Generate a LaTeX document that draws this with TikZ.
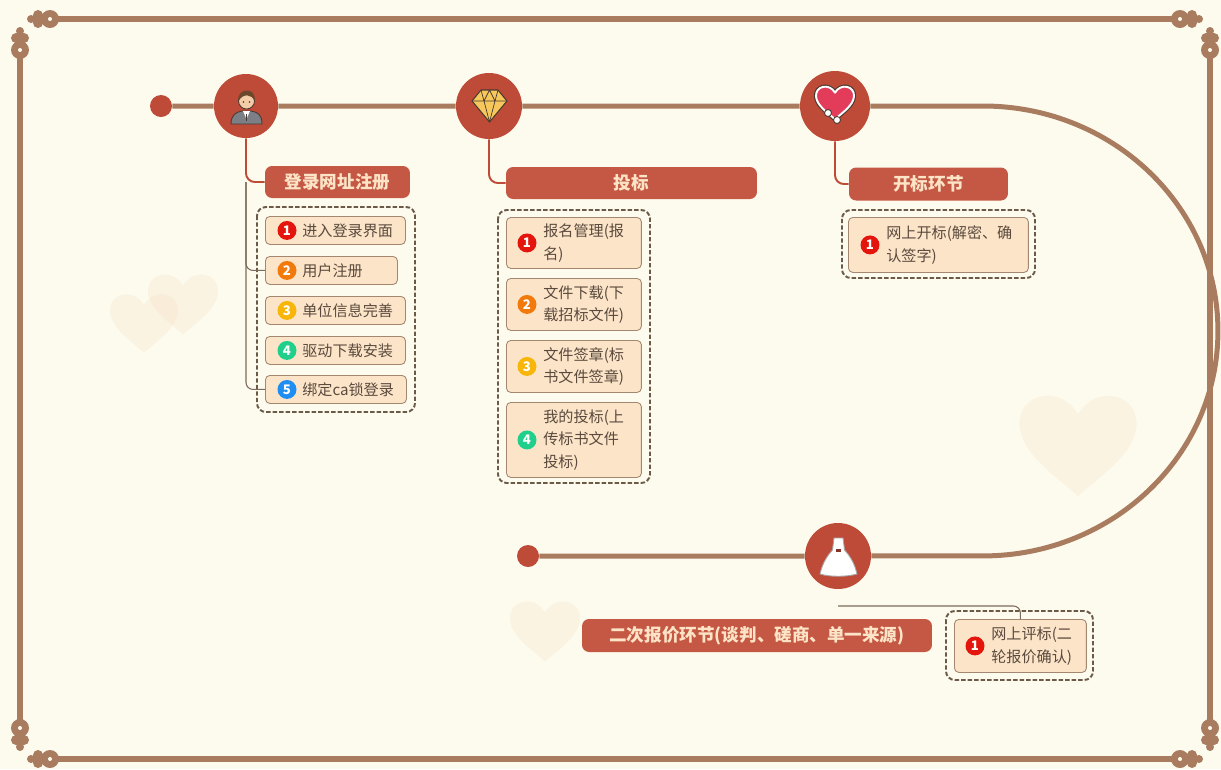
\documentclass[tikz,border=0pt]{standalone}
\usepackage{fontspec}
\setmainfont{Noto Sans CJK SC}
\usetikzlibrary{calc}
\definecolor{paper}{HTML}{FDFBEE}
\definecolor{ropebrown}{HTML}{A97C5F}
\definecolor{hubred}{HTML}{BE4B38}
\definecolor{headred}{HTML}{C55845}
\definecolor{headink}{HTML}{FDE4C6}
\definecolor{leaffill}{HTML}{FCE4C9}
\definecolor{leafline}{HTML}{A38771}
\definecolor{leafink}{HTML}{5A4A3D}
\definecolor{grpline}{HTML}{6C5A49}
\definecolor{twigline}{HTML}{7D6B5C}
\definecolor{heartfill}{HTML}{F7DEC3}
\definecolor{bdgred}{HTML}{E3150D}
\definecolor{bdgorange}{HTML}{F27A0C}
\definecolor{bdgyellow}{HTML}{F8B60A}
\definecolor{bdggreen}{HTML}{1FCF8A}
\definecolor{bdgblue}{HTML}{1E8EF2}
\definecolor{iconline}{HTML}{4A3A30}
\definecolor{suitgray}{HTML}{7C7F86}
\definecolor{skin}{HTML}{F4CDA8}
\definecolor{hairbrown}{HTML}{6B472B}
\definecolor{gemgold}{HTML}{F6C85C}
\definecolor{heartred}{HTML}{E23C5A}

\begin{document}
\begin{tikzpicture}[x=0.02cm, y=-0.02cm, line join=round,
    trunk/.style={draw=ropebrown, line width=0.1cm},
    frame/.style={draw=ropebrown, line width=0.12cm},
    hub/.style={circle, fill=hubred, inner sep=0pt, minimum size=#1*0.02cm},
    spoke/.style={draw=hubred, line width=1.1pt, rounded corners=5pt},
    twig/.style={draw=twigline, line width=0.6pt, rounded corners=4pt},
    head/.style={fill=headred, rounded corners=4pt, inner sep=0pt, text=headink,
                 font=\bfseries\fontsize{10}{12}\selectfont},
    grp/.style={draw=grpline, line width=1.1pt, dash pattern=on 2.5pt off 1.2pt, rounded corners=5pt},
    leaf/.style={draw=leafline, fill=leaffill, line width=0.5pt, rounded corners=2.5pt,
                 anchor=north west, inner sep=0pt},
    leaftext/.style={anchor=west, align=left, inner sep=0pt, text=leafink,
                     font=\fontsize{8.6}{12.8}\selectfont},
    badge/.style={circle, fill=#1, inner sep=0pt, minimum size=0.38cm, text=white,
                  font=\bfseries\fontsize{7.5}{8}\selectfont},
    ghost/.style={fill=heartfill, fill opacity=0.27}]

  % paper
  \fill[paper] (0,0) rectangle (1221,769);
  \useasboundingbox (0,0) rectangle (1221,769);

  % faint hearts in the back
  \foreach \hx/\hy/\hs in {144/320/0.68, 183/301/0.70, 1078/440/1.17, 545/628/0.70}
    \fill[ghost, shift={(\hx,\hy)}, scale=\hs] (0,-22) .. controls (-15,-48) and (-52,-40) .. (-50,-12)
      .. controls (-48,12) and (-20,30) .. (0,48) .. controls (20,30) and (48,12) .. (50,-12)
      .. controls (52,-40) and (15,-48) .. (0,-22) -- cycle;

  % border with knots in the corners
  \draw[frame] (50,19) -- (1180,19) (50,759) -- (1180,759) (20,50) -- (20,728) (1210,50) -- (1210,728);
  \foreach \cx/\cy/\sx/\sy in {20/19/1/1, 1210/19/-1/1, 20/759/1/-1, 1210/759/-1/-1}{
    \begin{scope}[shift={(\cx,\cy)}, xscale=\sx, yscale=\sy]
      \fill[ropebrown] (30,0) circle[radius=9] (18,-4) circle[radius=5] (18,4) circle[radius=5] (11,0) circle[radius=4]
                       (0,31) circle[radius=9] (-4,19) circle[radius=5] (4,19) circle[radius=5] (0,12) circle[radius=4];
      \fill[paper] (30,0) circle[radius=2] (0,31) circle[radius=2];
    \end{scope}}

  % the timeline
  \node[hub=22] (dot1) at (161,106) {};
  \node[hub=64] (hub1) at (246,106) {};
  \node[hub=66] (hub2) at (489,106) {};
  \node[hub=70] (hub3) at (835,106) {};
  \node[hub=66] (hub4) at (838,556) {};
  \node[hub=22] (dot2) at (528,556) {};
  \coordinate (bend) at (983,106);
  \draw[trunk] (dot1) -- (hub1) -- (hub2) -- (hub3) -- (bend)
    arc[start angle=90, end angle=-90, x radius=4.7cm, y radius=4.5cm] -- (hub4) -- (dot2);

  % stage titles
  \node[head, minimum width=2.9cm, minimum height=0.64cm] (head1) at (337.5,182) {登录网址注册};
  \node[head, minimum width=5.02cm, minimum height=0.64cm] (head2) at (631.5,183) {投标};
  \node[head, minimum width=3.18cm, minimum height=0.66cm] (head3) at (928.5,184) {开标环节};
  \node[head, minimum width=7cm, minimum height=0.66cm] (head4) at (757,635.5) {二次报价环节(谈判、磋商、单一来源)};
  \draw[spoke] (hub1) |- (head1);
  \draw[spoke] (hub2) |- (head2);
  \draw[spoke] (hub3) |- (head3);

  % dashed groups
  \draw[grp] (257,207) rectangle (415,412);
  \draw[grp] (498,210) rectangle (650,483);
  \draw[grp] (842,210) rectangle (1035,278);
  \draw[grp] (946,611) rectangle (1093,680);

  % steps of the first stage
  \foreach \n/\y/\w/\c/\t in {1/216/140/bdgred/进入登录界面, 2/256/132/bdgorange/用户注册,
      3/296/140/bdgyellow/单位信息完善, 4/336/140/bdggreen/驱动下载安装, 5/375/141/bdgblue/绑定ca锁登录}{
    \node[leaf, minimum width=\w*0.02cm, minimum height=0.56cm] (a\n) at (265,\y) {};
    \node[badge=\c] (ab\n) at ($(a\n.west)+(22,0)$) {\n};
    \node[leaftext] (at\n) at ($(a\n.west)+(37,0)$) {\t};
  }
  \draw[twig] (hub1 |- head1.west) |- (a2);
  \draw[twig] (hub1 |- head1.west) |- (a5);

  % steps of the second stage
  \foreach \n/\y/\h/\c/\t in {1/217/51/bdgred/{报名管理(报\\名)}, 2/278/52/bdgorange/{文件下载(下\\载招标文件)},
      3/340/52/bdgyellow/{文件签章(标\\书文件签章)}, 4/402/75/bdggreen/{我的投标(上\\传标书文件\\投标)}}{
    \node[leaf, minimum width=2.7cm, minimum height=\h*0.02cm] (b\n) at (506,\y) {};
    \node[badge=\c] (bb\n) at ($(b\n.west)+(21,0)$) {\n};
    \node[leaftext] (bt\n) at ($(b\n.west)+(37,0)$) {\t};
  }

  % third and fourth stage
  \node[leaf, minimum width=3.6cm, minimum height=1.1cm] (c1) at (848,217) {};
  \node[badge=bdgred] (cb1) at ($(c1.west)+(22,0)$) {1};
  \node[leaftext] (ct1) at ($(c1.west)+(38,0)$) {网上开标(解密、确\\认签字)};
  \node[leaf, minimum width=2.64cm, minimum height=1.06cm] (d1) at (954,619) {};
  \node[badge=bdgred] (db1) at ($(d1.west)+(21,0)$) {1};
  \node[leaftext] (dt1) at ($(d1.west)+(37,0)$) {网上评标(二\\轮报价确认)};
  \coordinate (knot4) at (838,606);
  \draw[twig] (knot4) -| (d1);

  % icon: man in a suit
  \filldraw[fill=suitgray, draw=iconline, line width=0.5pt] (231,124) .. controls (231,115) and (236,112) .. (242,111)
    -- (251,111) .. controls (258,112) and (262,115) .. (262,124) -- cycle;
  \fill[white] (243,111) -- (246.5,119) -- (250,111) -- cycle;
  \draw[iconline, line width=0.7pt] (246.5,114) -- (246.5,121);
  \filldraw[fill=skin, draw=iconline, line width=0.5pt] (246.5,101) circle[radius=8];
  \fill[hairbrown] (238.5,101) .. controls (236,88) and (257,86) .. (254.5,101)
    .. controls (252,94) and (243,93) .. (238.5,101) -- cycle;
  \fill[iconline] (243.5,102) circle[radius=0.9] (249.5,102) circle[radius=0.9];

  % icon: diamond
  \filldraw[fill=gemgold, draw=iconline, line width=0.6pt]
    (472,101) -- (481,90) -- (498,90) -- (507,101) -- (489.5,122) -- cycle;
  \draw[iconline, line width=0.4pt] (472,101) -- (507,101) (481,90) -- (484,101) -- (489.5,122) -- (495,101) -- (498,90)
    (484,101) -- (489.5,90) -- (495,101);

  % icon: heart with stethoscope
  \draw[iconline, line width=2.4pt, shift={(835,101)}, scale=0.38] (0,-22) .. controls (-15,-48) and (-52,-40) .. (-50,-12)
      .. controls (-48,12) and (-20,30) .. (0,48) .. controls (20,30) and (48,12) .. (50,-12)
      .. controls (52,-40) and (15,-48) .. (0,-22) -- cycle;
  \filldraw[fill=heartred, draw=white, line width=1.1pt, shift={(835,101)}, scale=0.38] (0,-22) .. controls (-15,-48) and (-52,-40) .. (-50,-12)
      .. controls (-48,12) and (-20,30) .. (0,48) .. controls (20,30) and (48,12) .. (50,-12)
      .. controls (52,-40) and (15,-48) .. (0,-22) -- cycle;
  \filldraw[fill=white, draw=iconline, line width=0.5pt] (828,113) circle[radius=3.5] (837,120) circle[radius=3.5];

  % icon: dress
  \filldraw[fill=white, draw=gray!70, line width=0.5pt] (834,538) -- (843,538) -- (844.5,550)
    .. controls (851,557) and (855,565) .. (857,574) .. controls (846,577) and (830,577) .. (820,574)
    .. controls (822,565) and (826,557) .. (832.5,550) -- cycle;
  \fill[hubred!70!black] (836,549) rectangle (841,551.5);
\end{tikzpicture}
\end{document}
